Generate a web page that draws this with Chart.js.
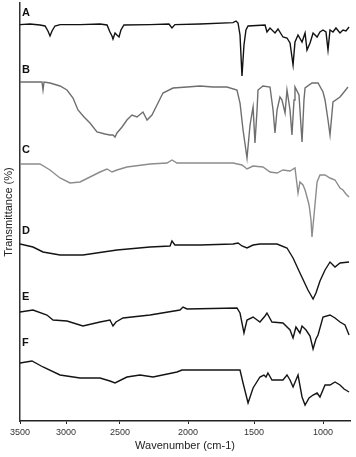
<!DOCTYPE html>
<html><head><meta charset="utf-8">
<script src="https://cdn.jsdelivr.net/npm/chart.js@4.4.0/dist/chart.umd.min.js"></script>
<style>html,body{margin:0;padding:0;background:#fff}canvas{display:block}</style>
</head><body>
<canvas id="c" width="356" height="457"></canvas>
<script>
// ---------- data (wavenumber in cm-1, transmittance in stacked % units) ----------
const seriesNames = ['A', 'B', 'C', 'D', 'E', 'F'];
const tickValues = [3500, 3000, 2500, 2000, 1500, 1000];
const labelLevels = [102, 87.75, 67.75, 47.5, 31, 19.5];

const wnA = [3500,3391,3283,3228,3196,3174,3152,3120,3065,2870,2685,2620,2593,2574,2565,2546,2528,2509,2493,2471,2279,2140,2118,2096,1909,1659,1636,1621,1606,1591,1576,1561,1545,1420,1406,1384,1348,1326,1290,1261,1239,1217,1203,1181,1152,1130,1116,1094,1072,1043,1022,1000,978,963,948,926,904,874,852,830,807];
const tA  = [99.1,99.25,99,98.75,97.5,96.25,97.5,98.75,99.1,99.1,99.25,99,97.25,96.25,95.5,97,96.5,96,97.75,99,99.1,99.25,98.25,99.1,99.25,99.6,100,99.5,96.5,86.25,94,97.75,98.75,99,97.25,98.25,97,98,96,95.75,94.5,89,94.75,96.5,94.75,97,92.75,94.5,97,96,97.25,97.75,97.25,92.75,97.75,97.25,98.25,97,97.75,97.5,98.5];

const wnB = [3500,3283,3261,3250,3239,3174,3065,2991,2935,2889,2833,2778,2713,2639,2593,2565,2546,2528,2485,2449,2412,2375,2331,2301,2265,2228,2184,2110,2007,1909,1811,1705,1629,1606,1583,1553,1530,1515,1507,1493,1478,1471,1435,1384,1362,1348,1333,1312,1297,1275,1261,1239,1225,1210,1203,1174,1152,1138,1130,1080,1036,1000,985,963,948,926,874,844,815];
const tB  = [84.75,84.75,84.75,82.75,84.75,84.5,83.75,82.75,80.75,77.75,76,74.5,72.25,71.75,71.5,71.5,71,72,73.5,75.25,76.5,76,77.25,75.25,76.5,79,82,83.25,83.5,83.75,83.5,83.5,82.75,79.5,72.75,65.75,74,77,78.5,69.5,77.75,82.75,83.75,83.5,77.75,72,77.75,81,80.25,77,82.75,77.75,71.5,80.25,83.5,81.5,69.75,80.25,83.25,84.5,84.5,82.25,80.25,75.25,71.5,79.75,81,82.25,83.5];

const wnC = [3500,3283,3174,3065,2963,2870,2778,2685,2620,2574,2528,2449,2279,2154,2118,2081,1659,1591,1553,1507,1435,1384,1333,1290,1239,1203,1181,1167,1145,1130,1116,1101,1087,1080,1065,1043,1022,985,948,911,874,852,830,807];
const tC  = [64.25,64.25,62.75,60.75,59.5,59.75,61,62.25,63,62.25,62.75,63.5,64.25,64.5,65.25,64.5,64.5,64,63,63.75,63.5,62.25,62,62.75,62.5,63.25,57,59.75,59,57.75,56,54,50.25,46,51.5,59.75,61.5,61.5,60.75,60.25,58.25,57.75,56.75,56];

const wnD = [3500,3359,3250,3065,2843,2528,2279,2132,2118,2096,1909,1659,1621,1591,1553,1507,1457,1333,1261,1217,1167,1109,1072,1051,1022,985,948,911,874,807];
const tD  = [44.25,43.5,42.25,41.5,41.5,42.75,43.5,43.75,45,44,44,44.25,44.5,43.75,43.25,44,44.25,44.25,43.25,40.75,37,32.75,30.5,32,35,37.75,39.75,38.5,39.5,39.75];

const wnE = [3500,3359,3207,3141,2991,2843,2685,2593,2565,2537,2478,2279,2059,2037,2007,1629,1606,1576,1553,1507,1457,1420,1406,1370,1290,1239,1217,1196,1167,1152,1123,1094,1072,1051,1036,1000,948,911,874,837,807];
const tE  = [27.25,27.75,26.5,25.25,25,23.75,24.75,25.25,23.75,24.75,25.75,26.5,27.75,28.5,28,28.25,27,22,25.25,26,24.75,26.25,27,24.75,24.5,22.75,20.75,23.5,22,23.75,22.75,21.25,18,20.5,21.5,26,26.5,25.75,24.75,24,21.5];

const wnF = [3500,3370,3250,3065,2870,2685,2593,2546,2449,2353,2257,2081,2044,1659,1606,1583,1545,1507,1457,1428,1413,1399,1370,1290,1261,1239,1217,1181,1152,1130,1101,1072,1043,1022,985,948,911,874,844,807];
const tF  = [14.5,15,13.5,11.5,10.75,10.75,10,9.5,11,11.5,11,12.25,12.75,12.75,12.75,9.5,4.5,8.25,11,11.5,11,12,10.25,10.25,11.5,10.25,8.5,11.5,6,4,5.75,6.5,7,6,9,9,9.75,9,8,7.25];

const wnSeries = [wnA, wnB, wnC, wnD, wnE, wnF];
const tSeries = [tA, tB, tC, tD, tE, tF];

// ---------- styles / axis layout ----------
const lineColors = ['#111111', '#6e6e6e', '#8c8c8c', '#141414', '#141414', '#141414'];
// the wavenumber axis changes scale at each break (fraction of axis width)
const axisKnotWn = [3500, 3000, 2500, 2000, 1500, 1000, 800];
const axisKnotPos = [0, 0.1394, 0.3030, 0.5091, 0.7091, 0.9182, 1];
const FONT = '"Liberation Sans", Arial, Helvetica, sans-serif';

function wnToFrac(v) {
  const n = axisKnotWn.length;
  for (let i = 0; i < n - 1; i++) {
    const a = axisKnotWn[i], b = axisKnotWn[i + 1];
    if (v >= b || i === n - 2) {
      return axisKnotPos[i] + (a - v) / (a - b) * (axisKnotPos[i + 1] - axisKnotPos[i]);
    }
  }
  return 0;
}
function fracToWn(f) {
  const n = axisKnotPos.length;
  for (let i = 0; i < n - 1; i++) {
    const a = axisKnotPos[i], b = axisKnotPos[i + 1];
    if (f <= b || i === n - 2) {
      return axisKnotWn[i] + (f - a) / (b - a) * (axisKnotWn[i + 1] - axisKnotWn[i]);
    }
  }
  return axisKnotWn[0];
}

class BrokenWavenumberScale extends Chart.LinearScale {
  getPixelForValue(v) { return this.getPixelForDecimal(wnToFrac(v)); }
  getValueForPixel(p) { return fracToWn(this.getDecimalForPixel(p)); }
}
BrokenWavenumberScale.id = 'brokenwn';
BrokenWavenumberScale.defaults = Chart.LinearScale.defaults;
Chart.register(BrokenWavenumberScale);

const letterPlugin = {
  id: 'letters',
  afterDatasetsDraw(chart) {
    const { ctx, scales: { x, y } } = chart;
    ctx.save();
    ctx.font = 'bold 11px ' + FONT;
    ctx.fillStyle = '#111';
    ctx.textAlign = 'left';
    ctx.textBaseline = 'middle';
    seriesNames.forEach((n, i) => {
      ctx.fillText(n, x.getPixelForValue(axisKnotWn[0]) + 2, y.getPixelForValue(labelLevels[i]));
    });
    ctx.restore();
  }
};

new Chart(document.getElementById('c'), {
  type: 'line',
  data: {
    datasets: seriesNames.map((name, i) => ({
      label: name,
      data: wnSeries[i].map((w, j) => ({ x: w, y: tSeries[i][j] })),
      borderColor: lineColors[i],
      borderWidth: 1.4,
      pointRadius: 0,
      tension: 0,
      fill: false
    }))
  },
  options: {
    responsive: false,
    animation: false,
    layout: { padding: { top: 3, right: 6, left: 0, bottom: 0 } },
    plugins: { legend: { display: false }, tooltip: { enabled: false } },
    scales: {
      x: {
        type: 'brokenwn',
        min: 800, max: 3500,
        afterBuildTicks: s => { s.ticks = tickValues.map(v => ({ value: v })); },
        afterFit: s => { s.height = 36; },
        ticks: { callback: v => String(v), autoSkip: false, maxRotation: 0, color: '#333', padding: 3, font: { size: 9, family: FONT } },
        grid: { display: true, drawOnChartArea: false, drawTicks: true, tickLength: 3, color: '#222', lineWidth: 1 },
        border: { display: true, color: '#222', width: 1.5 },
        title: { display: true, text: 'Wavenumber (cm-1)', color: '#222', font: { size: 11, family: FONT }, padding: { top: 0, bottom: 4 } }
      },
      y: {
        min: 0, max: 104.5,
        afterFit: s => { s.width = 20; },
        ticks: { display: false },
        grid: { display: false },
        border: { display: true, color: '#333', width: 1.5 },
        title: { display: true, text: 'Transmittance (%)', color: '#222', font: { size: 11, family: FONT }, padding: { top: 2, bottom: 0 } }
      }
    }
  },
  plugins: [letterPlugin]
});
</script>
</body></html>
